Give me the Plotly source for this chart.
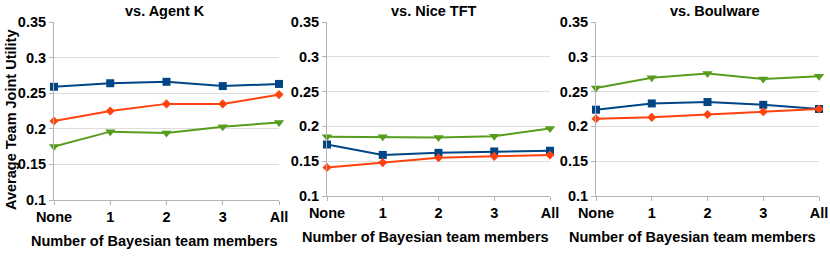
import plotly.graph_objects as go

categories = ["None", "1", "2", "3", "All"]
panel_titles = ["vs. Agent K", "vs. Nice TFT", "vs. Boulware"]

# series per panel: blue (square), orange (diamond), green (triangle-down)
blue_vals = [
    [0.259, 0.264, 0.266, 0.260, 0.263],
    [0.174, 0.159, 0.162, 0.164, 0.165],
    [0.224, 0.233, 0.235, 0.231, 0.225],
]
orange_vals = [
    [0.211, 0.225, 0.235, 0.235, 0.248],
    [0.141, 0.148, 0.155, 0.157, 0.159],
    [0.211, 0.213, 0.217, 0.221, 0.225],
]
green_vals = [
    [0.175, 0.196, 0.194, 0.203, 0.209],
    [0.185, 0.185, 0.184, 0.186, 0.197],
    [0.255, 0.270, 0.276, 0.268, 0.272],
]
y_ticks = [0.1, 0.15, 0.2, 0.25, 0.3, 0.35]
y_ticktext = ["0.1", "0.15", "0.2", "0.25", "0.3", "0.35"]

x_title = "Number of Bayesian team members"
y_title = "Average Team Joint Utility"

W, H = 830, 260
# plot-area boxes in pixels (left, right, top, bottom)
boxes = [(54, 279, 22, 200), (327, 550, 22, 196), (596, 819, 22, 196)]
xtitle_pos = [(154, 241), (425, 237), (692, 237)]
title_pos = [(165, 11), (434, 11), (714, 11)]

BLUE = "#004586"
ORANGE = "#ff420e"
GREEN = "#579d1c"
FONT = dict(family="Liberation Sans, Arial, sans-serif", size=14.5, color="#000000", weight="bold")

fig = go.Figure()
series = [
    (blue_vals, BLUE, "square", 8),
    (orange_vals, ORANGE, "diamond", 7),
    (green_vals, GREEN, "triangle-down", 9),
]
for i in range(3):
    xa = "x" if i == 0 else f"x{i+1}"
    ya = "y" if i == 0 else f"y{i+1}"
    for vals, col, sym, sz in series:
        fig.add_trace(go.Scatter(
            x=list(range(len(categories))), y=vals[i], mode="lines+markers",
            line=dict(color=col, width=2),
            marker=dict(symbol=sym, size=sz, color=col),
            xaxis=xa, yaxis=ya, cliponaxis=False, showlegend=False,
        ))
    l, r, t, b = boxes[i]
    xkey = "xaxis" if i == 0 else f"xaxis{i+1}"
    ykey = "yaxis" if i == 0 else f"yaxis{i+1}"
    fig.update_layout(**{
        xkey: dict(
            domain=[l / W, r / W], anchor=ya, range=[0, 4], automargin=False,
            tickvals=list(range(len(categories))), ticktext=categories,
            showgrid=False, zeroline=False, showline=True, linecolor="#b3b3b3", linewidth=1,
            ticks="outside", ticklen=4, tickcolor="#b3b3b3", tickfont=FONT,
        ),
        ykey: dict(
            domain=[1 - b / H, 1 - t / H], anchor=xa, range=[0.1, 0.35], automargin=False,
            tickvals=y_ticks, ticktext=y_ticktext,
            showgrid=True, gridcolor="#dddddd", gridwidth=1, zeroline=False,
            showline=True, linecolor="#b3b3b3", linewidth=1,
            ticks="outside", ticklen=4, tickcolor="#b3b3b3", tickfont=FONT,
        ),
    })
    fig.add_annotation(text=x_title, x=xtitle_pos[i][0] / W, y=1 - xtitle_pos[i][1] / H,
                       xref="paper", yref="paper", showarrow=False, font=FONT,
                       xanchor="center", yanchor="middle")
    fig.add_annotation(text=panel_titles[i], x=title_pos[i][0] / W, y=1 - title_pos[i][1] / H,
                       xref="paper", yref="paper", showarrow=False, font=FONT,
                       xanchor="center", yanchor="middle")

fig.add_annotation(text=y_title, x=11 / W, y=1 - 120 / H, xref="paper", yref="paper",
                   showarrow=False, font=FONT, textangle=-90, xanchor="center", yanchor="middle")

fig.update_layout(width=W, height=H, margin=dict(l=0, r=0, t=0, b=0, autoexpand=False),
                  paper_bgcolor="white", plot_bgcolor="white", hovermode=False)
fig.write_html("out.html", config={"displayModeBar": False, "staticPlot": True},
               post_script="document.body.style.margin='0';")
